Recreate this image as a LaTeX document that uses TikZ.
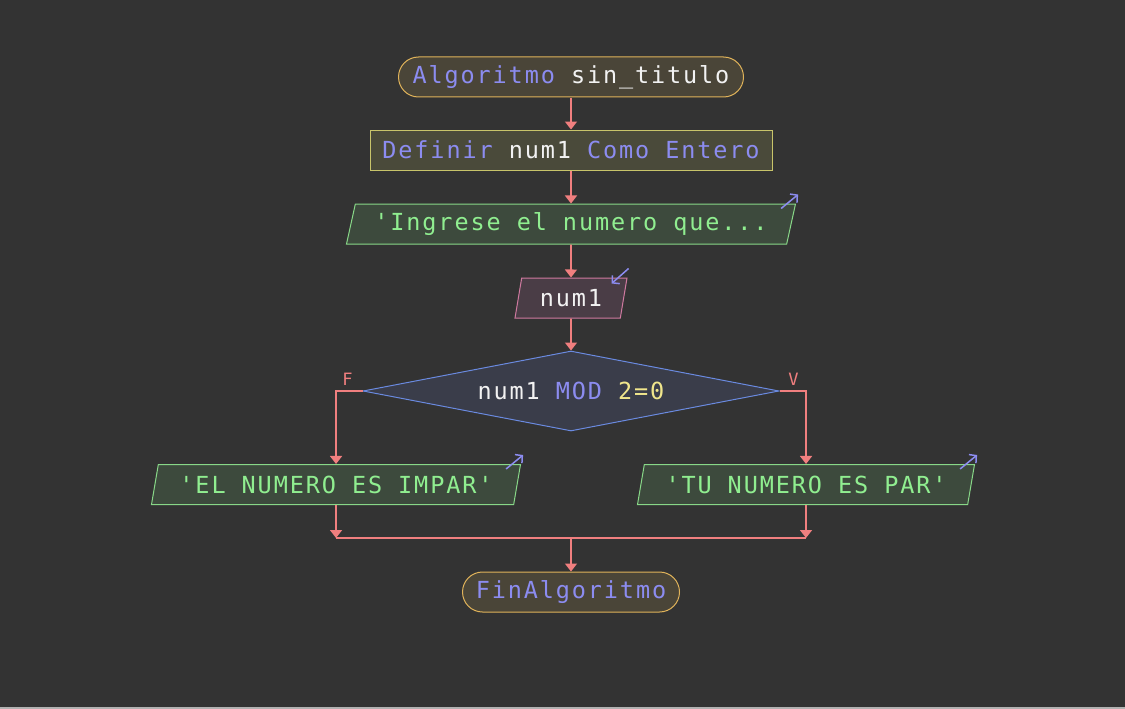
\documentclass[tikz,border=0pt]{standalone}
\usepackage{fontspec}
\newfontfamily\codefont[LetterSpace=8]{DejaVu Sans Mono}
\newcommand{\flowfont}{\codefont\fontsize{23.5}{26}\selectfont}
\usetikzlibrary{positioning,calc,shapes.geometric,arrows.meta}

\definecolor{bgcol}{HTML}{333333}
\definecolor{kwcol}{HTML}{8C8CF0}
\definecolor{txcol}{HTML}{F2F2F2}
\definecolor{strcol}{HTML}{90EE90}
\definecolor{numcol}{HTML}{F0E68C}
\definecolor{flowcol}{HTML}{F07F7F}
\definecolor{termfill}{HTML}{4A4538}
\definecolor{termline}{HTML}{E0B35A}
\definecolor{deffill}{HTML}{4A4A3A}
\definecolor{defline}{HTML}{C8C46A}
\definecolor{outfill}{HTML}{3D4A3D}
\definecolor{outline}{HTML}{88D888}
\definecolor{infill}{HTML}{4A3D46}
\definecolor{inline}{HTML}{D07AA0}
\definecolor{decfill}{HTML}{3A3D4A}
\definecolor{decline}{HTML}{6A8AE0}

\begin{document}
\begin{tikzpicture}[x=1pt,y=-1pt,
  box/.style={draw, line width=1pt, minimum height=40pt, inner sep=0pt, font=\flowfont},
  term/.style={box, rounded corners=20pt, draw=termline, fill=termfill},
  defbox/.style={box, draw=defline, fill=deffill},
  para/.style={box, trapezium, trapezium left angle=69, trapezium right angle=111,
    trapezium stretches body},
  outbox/.style={para, draw=outline, fill=outfill},
  inbox/.style={para, draw=inline, fill=infill},
  decbox/.style={box, diamond, aspect=5.2, draw=decline, fill=decfill},
  flow/.style={draw=flowcol, line width=1.6pt, -{Triangle[width=12pt,length=8pt]}},
  plain/.style={draw=flowcol, line width=1.6pt},
  icon/.style={draw=kwcol, line width=1.5pt, -{Straight Barb[length=5pt,width=11pt]}},
  branch/.style={text=flowcol, font=\codefont\fontsize{17}{17}\selectfont, inner sep=0pt}
]
% background
\fill[bgcol] (0,0) rectangle (1125,709);
\fill[gray!60] (0,707) rectangle (1125,709);

% nodes
\node[term, minimum width=345pt] (start) at (571,77)
  {\textcolor{kwcol}{Algoritmo} \textcolor{txcol}{sin\_titulo}};
\node[defbox, minimum width=402pt] (def) at (571,150)
  {\textcolor{kwcol}{Definir} \textcolor{txcol}{num1} \textcolor{kwcol}{Como Entero}};
\node[outbox, minimum width=449pt] (out1) at (571,224)
  {\textcolor{strcol}{'Ingrese el numero que...}};
\node[inbox, minimum width=112pt] (in1) at (571,298)
  {\textcolor{txcol}{num1}};
\node[decbox, minimum width=416pt, minimum height=80pt] (dec) at (571,391)
  {\textcolor{txcol}{num1} \textcolor{kwcol}{MOD} \textcolor{numcol}{2=0}};
\node[outbox, minimum width=369pt] (outF) at (336,484.5)
  {\textcolor{strcol}{'EL NUMERO ES IMPAR'}};
\node[outbox, minimum width=337pt] (outV) at (806,484.5)
  {\textcolor{strcol}{'TU NUMERO ES PAR'}};
\node[term, minimum width=217pt] (end) at (571,592)
  {\textcolor{kwcol}{FinAlgoritmo}};

% in/out marks
\draw[icon] ($(out1.top right corner)+(-15,5)$) -- ++(17,-14);
\draw[icon] ($(outF.top right corner)+(-15,5)$) -- ++(17,-14);
\draw[icon] ($(outV.top right corner)+(-15,5)$) -- ++(17,-14);
\draw[icon] ($(in1.top right corner)+(1,-9)$) -- ++(-17,15);

% flow
\draw[flow] (start) -- (def);
\draw[flow] (def) -- (out1);
\draw[flow] (out1) -- (in1);
\draw[flow] (in1) -- (dec);
\draw[flow] (dec.west) -| (outF.north);
\draw[flow] (dec.east) -| (outV.north);
\node[branch] (lblF) at ($(dec.west)+(-15,-12)$) {F};
\node[branch] (lblV) at ($(dec.east)+(14,-12)$) {V};

\coordinate (merge) at (571,538);
\draw[flow] (outF.south) -- (outF.south |- merge);
\draw[flow] (outV.south) -- (outV.south |- merge);
\draw[plain] (outF.south |- merge) -- (outV.south |- merge);
\draw[flow] (merge) -- (end);
\end{tikzpicture}
\end{document}
